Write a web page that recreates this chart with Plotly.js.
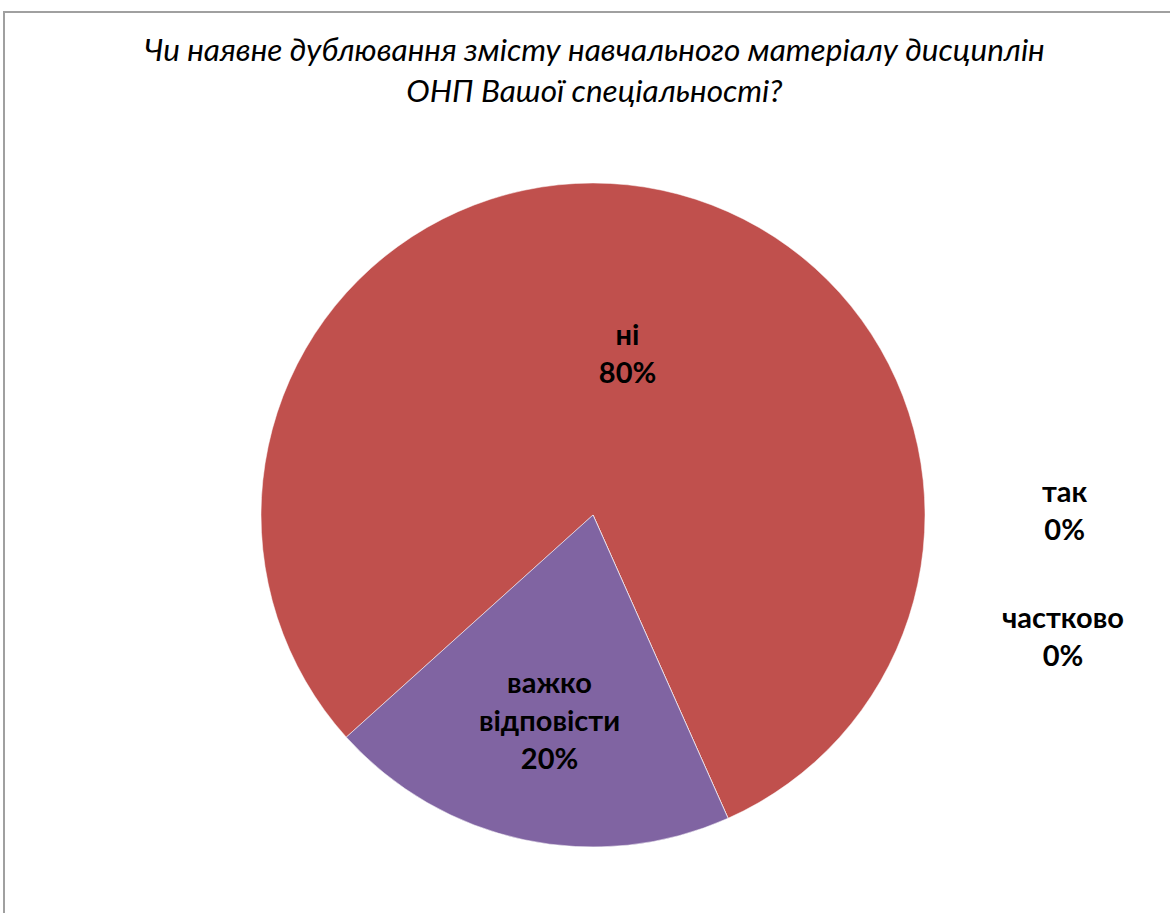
<!DOCTYPE html>
<html>
<head>
<meta charset="utf-8">
<script src="https://cdn.plot.ly/plotly-3.0.1.min.js"></script>
<style>
html,body{margin:0;padding:0;background:#fff;}
#wrap{position:relative;width:1170px;height:913px;overflow:hidden;}
#chart{width:1170px;height:913px;}
#frame{position:absolute;left:3px;top:11px;width:1200px;height:1000px;
  border-top:2px solid #A0A0A0;border-left:2px solid #A0A0A0;pointer-events:none;box-sizing:border-box;}
</style>
</head>
<body>
<div id="wrap">
<div id="chart"></div>
<div id="frame"></div>
</div>
<script>
const categories = ['так', 'ні', 'частково', 'важко відповісти'];
const values = [0, 80, 0, 20];
const colors = ['#4F81BD', '#C0504D', '#9BBB59', '#8064A2'];
const titleText = 'Чи наявне дублювання змісту навчального матеріалу дисциплін<br>ОНП Вашої спеціальності?';

const total = values.reduce((a, b) => a + b, 0);
const pct = values.map(v => Math.round(v / total * 100) + '%');
const wrapped = categories.map(c => c.replace(' ', '<br>'));

const fontFam = 'Lato, "Open Sans", sans-serif';

const trace = {
  type: 'pie',
  labels: categories,
  values: values,
  sort: false,
  direction: 'clockwise',
  rotation: 228,
  marker: {colors: colors, line: {color: '#ffffff', width: 0.5}},
  customdata: wrapped,
  texttemplate: '%{customdata}<br>%{percent:.0%}',
  textposition: 'inside',
  insidetextorientation: 'horizontal',
  textfont: {family: fontFam, size: 29, color: '#000000', weight: 'bold'},
  domain: {x: [261/1170, 925/1170], y: [66/913, 730/913]},
  hoverinfo: 'label+percent',
  showlegend: false
};

// labels for zero-value slices (plotly omits them), placed at the right
const zeroPos = {0: [1065/1170, 1 - 509/913], 2: [1063/1170, 1 - 635/913]};
const annotations = [];
values.forEach((v, i) => {
  if (v === 0 && zeroPos[i]) {
    annotations.push({
      xref: 'paper', yref: 'paper',
      x: zeroPos[i][0], y: zeroPos[i][1],
      xanchor: 'center', yanchor: 'middle',
      text: categories[i] + '<br>' + pct[i],
      showarrow: false,
      font: {family: fontFam, size: 29, color: '#000000', weight: 'bold'}
    });
  }
});

// title as annotation for precise placement
annotations.push({
  xref: 'paper', yref: 'paper',
  x: 594/1170, y: 1 - 69/913,
  xanchor: 'center', yanchor: 'middle',
  text: titleText,
  showarrow: false,
  font: {family: fontFam, size: 31.5, color: '#000000', style: 'italic'}
});

const layout = {
  width: 1170, height: 913,
  margin: {l: 0, r: 0, t: 0, b: 0},
  paper_bgcolor: '#ffffff',
  annotations: annotations
};

Plotly.newPlot('chart', [trace], layout, {displayModeBar: false});
</script>
</body>
</html>
